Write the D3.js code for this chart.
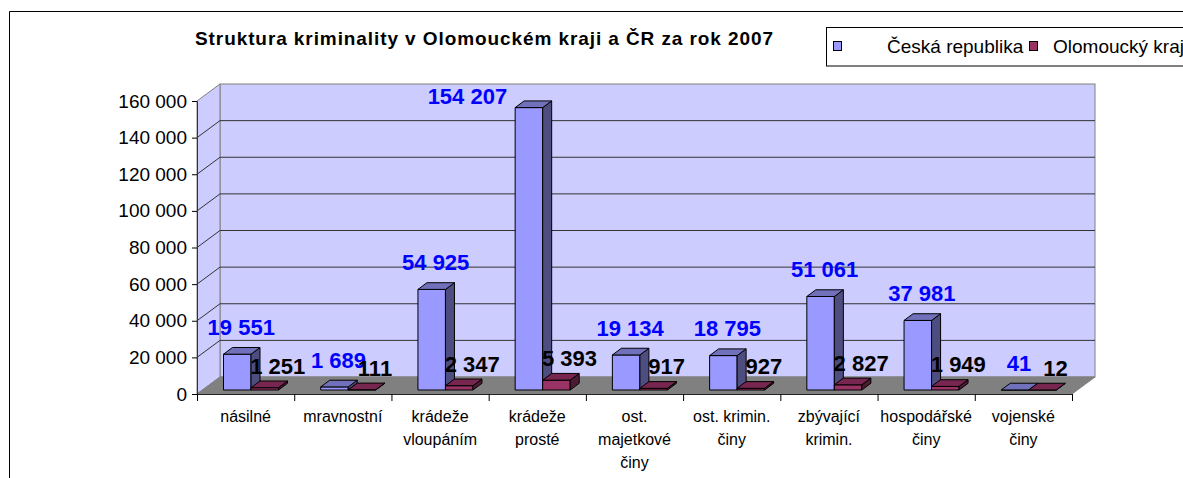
<!DOCTYPE html>
<meta charset="utf-8">
<style>
body { margin: 0; background: #fff; }
text { font-family: Arial, "Liberation Sans", sans-serif; }
.grid { fill: none; stroke: #333; stroke-width: 1px; }
</style>
<body>
<script src="https://cdn.jsdelivr.net/npm/d3@7"></script>
<script>

// data
var categories = ["násilné", "mravnostní", "krádeže\nvloupáním", "krádeže\nprosté",
  "ost.\nmajetkové\nčiny", "ost. krimin.\nčiny", "zbývající\nkrimin.", "hospodářské\nčiny", "vojenské\nčiny"];
var seriesNames = ["Česká republika", "Olomoucký kraj"];
var ceskaRepublika = [19551, 1689, 54925, 154207, 19134, 18795, 51061, 37981, 41];
var olomouckyKraj = [1251, 111, 2347, 5393, 917, 927, 2827, 1949, 12];
var yTicks = [0, 20000, 40000, 60000, 80000, 100000, 120000, 140000, 160000];

var W = 1183, H = 478;
var plotLeft = 197, plotRight = 1072, plotBase = 394, plotTop = 101;
var wall = {dx: 23, dy: -17};       // depth of the 3d walls
var shift = {dx: 5.4, dy: -4};      // bars sit a bit behind the front edge
var depth = {dx: 9, dy: -6.7};      // depth of a bar

var colors = [
  {front: "#9999ff", side: "#4d4d80", top: "#7070bb"},
  {front: "#993366", side: "#4d1a33", top: "#77264f"}
];

var cz = d3.formatLocale({decimal: ",", thousands: " ", grouping: [3], currency: ["", " Kč"]});
var fmt = cz.format(",");

var svg = d3.select("body").append("svg")
    .attr("width", W)
    .attr("height", H);

// outer frame of the chart object
svg.append("path")
    .attr("d", "M9.5," + H + "V11.5H" + W)
    .attr("fill", "none")
    .attr("stroke", "#000");

// title
svg.append("text")
    .attr("x", 195)
    .attr("y", 45)
    .attr("font-size", 19)
    .attr("font-weight", "bold")
    .attr("textLength", 578)
    .attr("lengthAdjust", "spacing")
    .text("Struktura kriminality v Olomouckém kraji a ČR za rok 2007");

// legend
var legend = svg.append("g");
legend.append("rect")
    .attr("x", 826.5).attr("y", 27.5)
    .attr("width", 420).attr("height", 38.5)
    .attr("fill", "#fff").attr("stroke", "#000");
[{x: 833, tx: 887}, {x: 1029, tx: 1053}].forEach(function(p, i) {
  legend.append("rect")
      .attr("x", p.x + 0.5).attr("y", 41.5)
      .attr("width", 8).attr("height", 9)
      .attr("fill", colors[i].front).attr("stroke", "#000");
  legend.append("text")
      .attr("x", p.tx).attr("y", 53)
      .attr("font-size", 19)
      .text(seriesNames[i]);
});

// scales
var y = d3.scaleLinear().domain([0, 160000]).range([plotBase, plotTop]);
var x0 = d3.scaleBand().domain(categories).range([plotLeft, plotRight]).padding(0);
var x1 = d3.scaleBand().domain(seriesNames).range([0, x0.bandwidth()])
    .paddingInner(0).paddingOuter(0.767);
var xi = d3.scaleLinear().domain([0, categories.length]).range([plotLeft, plotRight]);

var backTop = y(160000) + wall.dy,
    backBottom = plotBase + wall.dy,
    backRight = plotRight + wall.dx;

// walls
svg.append("rect")
    .attr("x", plotLeft + wall.dx).attr("y", backTop)
    .attr("width", backRight - plotLeft - wall.dx).attr("height", backBottom - backTop)
    .attr("fill", "#ccccff").attr("stroke", "#808080");
svg.append("polygon")
    .attr("points", [[plotLeft, plotBase], [plotLeft, y(160000)], [plotLeft + wall.dx, backTop], [plotLeft + wall.dx, backBottom]].join(" "))
    .attr("fill", "#ccccff").attr("stroke", "#808080");

// gridlines
svg.selectAll(".grid").data(yTicks.slice(1, -1)).enter().append("polyline")
    .attr("class", "grid")
    .attr("points", function(d) {
      return [[plotLeft, y(d)], [plotLeft + wall.dx, y(d) + wall.dy], [backRight, y(d) + wall.dy]].join(" ");
    });

// floor
svg.append("polygon")
    .attr("points", [[plotLeft, plotBase], [plotLeft + wall.dx, backBottom], [backRight, backBottom], [plotRight, plotBase]].join(" "))
    .attr("fill", "#808080").attr("stroke", "#808080");

// y axis
var yAxis = svg.append("g")
    .attr("transform", "translate(" + plotLeft + ",0)")
    .call(d3.axisLeft(y).tickValues(yTicks).tickSizeInner(5).tickSizeOuter(0).tickPadding(5).tickFormat(fmt));
yAxis.selectAll("text").attr("font-size", 19).attr("font-family", null).attr("fill", "#000");
yAxis.select(".domain").attr("stroke", "#333");

// x axis ticks on category borders
var xAxis = svg.append("g")
    .attr("transform", "translate(0," + plotBase + ")")
    .call(d3.axisBottom(xi).tickValues(d3.range(categories.length + 1)).tickSizeInner(7).tickSizeOuter(0).tickFormat(""));
xAxis.select(".domain").attr("stroke", "#222");

// x labels
var xLab = svg.append("g")
    .attr("transform", "translate(0," + plotBase + ")")
    .call(d3.axisBottom(x0).tickSize(0));
xLab.select(".domain").remove();
xLab.selectAll("text")
    .attr("font-size", 16).attr("font-family", null).attr("fill", "#000")
    .attr("y", 28).attr("dy", 0)
    .each(function(d) {
      var t = d3.select(this).text("");
      d.split("\n").forEach(function(line, i) {
        t.append("tspan").attr("x", 0).attr("dy", i ? 23 : 0).text(line);
      });
    });

// bars
var rows = [];
categories.forEach(function(c, i) {
  [ceskaRepublika[i], olomouckyKraj[i]].forEach(function(v, s) {
    var x = x0(c) + x1(seriesNames[s]) + shift.dx,
        w = x1.bandwidth(),
        yb = y(0) + shift.dy,
        yt = y(v) + shift.dy;
    rows.push({c: c, s: s, v: v, x: x, w: w, yb: yb, yt: yt});
  });
});

var bars = svg.selectAll(".bar").data(rows).enter().append("g").attr("class", "bar")
    .attr("stroke", "#000").attr("stroke-width", 1).attr("stroke-linejoin", "round");
bars.append("rect")
    .attr("x", function(d) { return d.x; })
    .attr("y", function(d) { return d.yt; })
    .attr("width", function(d) { return d.w; })
    .attr("height", function(d) { return d.yb - d.yt; })
    .attr("fill", function(d) { return colors[d.s].front; });
bars.append("polygon")
    .attr("points", function(d) {
      var r = d.x + d.w;
      return [[r, d.yb], [r + depth.dx, d.yb + depth.dy], [r + depth.dx, d.yt + depth.dy], [r, d.yt]].join(" ");
    })
    .attr("fill", function(d) { return colors[d.s].side; });
bars.append("polygon")
    .attr("points", function(d) {
      return [[d.x, d.yt], [d.x + depth.dx, d.yt + depth.dy], [d.x + d.w + depth.dx, d.yt + depth.dy], [d.x + d.w, d.yt]].join(" ");
    })
    .attr("fill", function(d) { return colors[d.s].top; });

// value labels
svg.selectAll(".val").data(rows).enter().append("text")
    .attr("class", "val")
    .attr("font-size", 22)
    .attr("font-weight", "bold")
    .attr("fill", function(d) { return d.s ? "#000" : "#0000ff"; })
    .each(function(d) {
      var t = d3.select(this);
      var bl = d.yt + depth.dy - (d.s ? 7.5 : 12.5);
      if (bl - 16 < backTop) {
        // no room above the bar: Excel puts it to the left
        t.attr("x", d.x - 8).attr("y", backTop + 20).attr("text-anchor", "end");
      } else {
        t.attr("x", d.x + d.w / 2 + (d.s ? 13 : 4)).attr("y", bl).attr("text-anchor", "middle");
      }
    })
    .text(function(d) { return fmt(d.v); });

</script>
</body>
